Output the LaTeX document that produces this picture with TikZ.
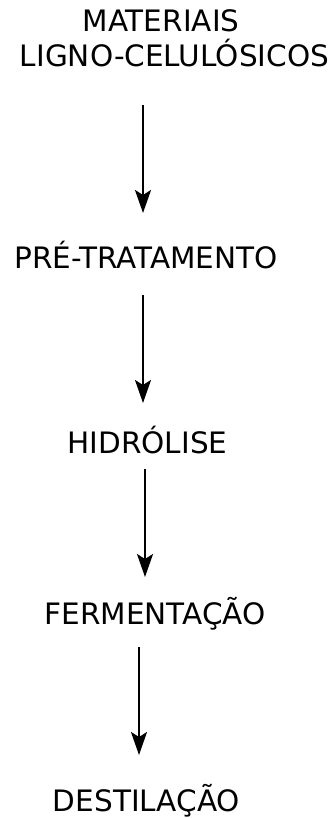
\documentclass[tikz,border=0pt]{standalone}
\usepackage{fontspec}
\setmainfont{DejaVu Sans}
\usetikzlibrary{arrows.meta}
\begin{document}
\begin{tikzpicture}[x=1pt,y=-1pt,
  lbl/.style={anchor=base,inner sep=0pt,font=\fontsize{29.5}{35}\selectfont},
  flow/.style={line width=2.2pt,-{Stealth[length=23pt,width=16pt,inset=5pt]}}]
\useasboundingbox (0,0) rectangle (336,818);
\node[lbl] (t1) at (161,32) {MATERIAIS};
\node[lbl] (t2) at (174.5,67) {LIGNO-CELULÓSICOS};
\node[lbl] (t3) at (146,268) {PRÉ-TRATAMENTO};
\node[lbl] (t4) at (147.5,453) {HIDRÓLISE};
\node[lbl] (t5) at (155,624) {FERMENTAÇÃO};
\node[lbl] (t6) at (146.5,811) {DESTILAÇÃO};
\coordinate (a1s) at (143,105); \coordinate (a1e) at (143,213);
\coordinate (a2s) at (143,295); \coordinate (a2e) at (143,403);
\coordinate (a3s) at (145,469); \coordinate (a3e) at (145,577);
\coordinate (a4s) at (139,647); \coordinate (a4e) at (139,755);
\draw[flow] (a1s) -- (a1e);
\draw[flow] (a2s) -- (a2e);
\draw[flow] (a3s) -- (a3e);
\draw[flow] (a4s) -- (a4e);
\end{tikzpicture}
\end{document}
